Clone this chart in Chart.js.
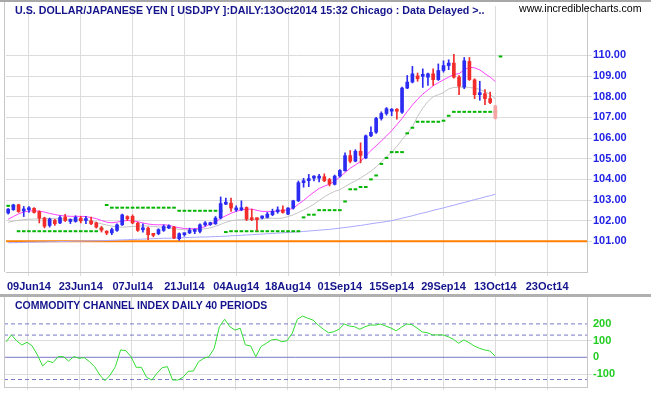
<!DOCTYPE html>
<html>
<head>
<meta charset="utf-8">
<script src="https://cdn.jsdelivr.net/npm/chart.js@4.4.1/dist/chart.umd.min.js"></script>
<style>
  body { margin: 0; background: #fff; width: 651px; height: 395px; overflow: hidden; position: relative; font-family: Arial, "Liberation Sans", sans-serif; }
  canvas { position: absolute; left: 0; }
  #priceChart { top: 0; }
  #cciChart { top: 297px; }
  .txt { position: absolute; white-space: nowrap; line-height: 10px; }
  .hdr { font-weight: bold; color: #14148c; }
  .rule { position: absolute; }
</style>
</head>
<body>
<canvas id="priceChart" width="651" height="295"></canvas>
<canvas id="cciChart" width="651" height="98"></canvas>
<div class="rule" style="left:0;top:0;width:651px;height:2px;background:#a8a8a8"></div>
<div class="rule" style="left:4px;top:2px;width:1px;height:270px;background:#c8c8c8"></div>
<div class="rule" style="left:0;top:294px;width:651px;height:3px;background:#b0b0b0"></div>
<div class="rule" style="left:4px;top:297px;width:1px;height:90px;background:#c8c8c8"></div>
<div class="txt hdr" style="left:15px;top:5px;font-size:10.7px">U.S. DOLLAR/JAPANESE YEN [ USDJPY ]:DAILY:13Oct2014 15:32 Chicago : Data Delayed &gt;..</div>
<div class="txt" style="left:519px;top:3px;font-size:10.6px;color:#000">www.incrediblecharts.com</div>
<div class="txt hdr" style="left:15px;top:300px;font-size:10.5px">COMMODITY CHANNEL INDEX DAILY 40 PERIODS</div>
<script>
document.addEventListener('DOMContentLoaded', function() {

// trading days, first value is 03 Jun 2014 (day -4), day 0 = 09 Jun 2014
var firstDay = -4;
var tickDays = [0, 10, 20, 30, 40, 50, 60, 70, 80, 90, 100];
var tickLabels = ['09Jun14', '23Jun14', '07Jul14', '21Jul14', '04Aug14', '18Aug14', '01Sep14', '15Sep14', '29Sep14', '13Oct14', '23Oct14'];
var priceTicks = [101, 102, 103, 104, 105, 106, 107, 108, 109, 110];
var cciTicks = [200, 100, 0, -100];
var cciLabels = ['200', '100', '0', '-100'];
var supportLevel = 101.00;
var cciDashed = [200, 133, -133];

var opens = [102.37,102.53,102.77,102.47,102.53,102.60,102.44,102.13,101.77,102.01,
  101.89,102.18,101.96,101.96,102.12,102.01,101.99,101.89,101.64,101.45,
  101.41,101.53,101.80,102.20,102.21,101.88,101.56,101.64,101.33,101.37,
  101.53,101.65,101.69,101.13,101.32,101.41,101.48,101.48,101.80,101.81,
  101.85,102.13,102.80,102.85,102.52,102.53,102.64,102.08,102.08,102.13,
  102.16,102.29,102.43,102.53,102.32,102.61,102.96,103.84,103.94,104.06,
  104.06,104.13,103.99,103.76,104.16,104.42,105.15,104.88,105.36,105.04,
  106.11,106.28,106.95,107.19,107.30,107.36,107.25,108.42,108.71,109.01,
  108.99,108.95,109.11,108.83,109.27,109.51,109.63,108.95,108.47,109.71,
  108.82,108.10,108.15,107.91,107.56];
var highs = [102.59,102.80,102.80,102.69,102.68,102.63,102.48,102.17,102.13,102.07,
  102.24,102.31,102.09,102.24,102.21,102.21,102.17,101.93,101.73,101.51,
  101.64,101.85,102.32,102.24,102.28,101.93,101.85,101.69,101.38,101.61,
  101.80,101.80,101.73,101.41,101.41,101.64,101.61,101.85,101.96,101.93,
  102.20,103.15,103.09,103.09,102.72,102.96,102.67,102.56,102.13,102.24,
  102.40,102.56,102.67,102.72,102.64,102.99,103.92,104.05,104.24,104.18,
  104.25,104.27,104.05,104.21,104.48,105.28,105.40,105.44,105.77,106.15,
  106.55,107.00,107.27,107.48,107.43,107.43,108.47,109.03,109.47,109.15,
  109.35,109.15,109.35,109.59,109.74,109.79,110.06,109.03,109.90,109.90,
  108.87,108.75,108.35,108.23,107.59];
var lows = [102.32,102.50,102.40,102.20,102.40,102.37,101.89,101.65,101.69,101.77,
  101.86,101.96,101.86,101.93,101.89,101.86,101.81,101.64,101.45,101.32,
  101.32,101.48,101.77,102.01,101.85,101.48,101.45,101.08,101.22,101.32,
  101.48,101.61,101.13,101.05,101.25,101.37,101.37,101.41,101.73,101.77,
  101.82,102.08,102.78,102.45,102.45,102.48,102.00,102.00,101.53,102.08,
  102.13,102.24,102.36,102.36,102.29,102.56,102.93,103.62,103.65,103.92,
  103.88,103.89,103.68,103.73,104.11,104.40,104.80,104.85,104.80,105.00,
  106.07,106.23,106.87,107.11,107.08,106.92,107.19,108.39,108.67,108.75,
  108.45,108.55,108.55,108.79,109.19,109.31,108.90,108.10,108.39,108.79,
  107.91,107.83,107.62,107.67,106.92];
var closes = [102.56,102.76,102.44,102.53,102.56,102.40,102.12,101.73,102.08,101.85,
  102.15,102.01,102.01,102.16,101.99,102.05,101.85,101.69,101.54,101.40,
  101.57,101.80,102.28,102.09,101.89,101.53,101.61,101.32,101.29,101.57,
  101.72,101.72,101.16,101.37,101.37,101.53,101.53,101.80,101.85,101.88,
  102.13,102.83,102.83,102.61,102.59,102.61,102.08,102.05,102.05,102.19,
  102.32,102.45,102.48,102.40,102.61,102.96,103.84,103.92,104.02,104.12,
  104.13,103.93,103.77,104.16,104.43,105.15,104.88,105.36,105.16,106.11,
  106.28,106.95,107.19,107.42,107.36,107.30,108.42,108.71,109.11,108.87,
  109.05,109.11,108.83,109.27,109.51,109.63,108.95,108.51,109.74,108.83,
  108.10,108.15,107.91,107.72,106.95];

var emaFast = [102.07,102.20,102.33,102.42,102.47,102.48,102.46,102.42,102.35,102.30,
  102.25,102.23,102.21,102.21,102.21,102.20,102.15,102.10,102.01,101.93,
  101.90,101.93,101.98,102.01,101.99,101.95,101.89,101.84,101.81,101.80,
  101.80,101.78,101.71,101.66,101.62,101.61,101.61,101.65,101.71,101.85,
  101.92,102.12,102.24,102.36,102.45,102.52,102.55,102.56,102.50,102.45,
  102.45,102.45,102.47,102.49,102.53,102.60,102.80,102.98,103.19,103.38,
  103.56,103.67,103.77,103.92,104.12,104.33,104.54,104.70,104.87,105.13,
  105.40,105.62,105.86,106.10,106.36,106.65,106.95,107.28,107.60,107.88,
  108.13,108.33,108.53,108.68,108.82,108.95,109.08,109.12,109.30,109.43,
  109.40,109.30,109.12,108.95,108.74];
var emaSlow = [101.92,101.98,102.02,102.05,102.07,102.08,102.09,102.10,102.10,102.10,
  102.09,102.08,102.07,102.05,102.04,102.02,101.98,101.92,101.85,101.79,
  101.74,101.70,101.69,101.70,101.72,101.73,101.75,101.74,101.72,101.70,
  101.68,101.65,101.62,101.58,101.56,101.56,101.57,101.58,101.61,101.65,
  101.73,101.82,101.92,102.00,102.03,102.05,102.06,102.06,102.07,102.09,
  102.11,102.12,102.11,102.13,102.20,102.28,102.40,102.52,102.65,102.80,
  102.98,103.15,103.30,103.42,103.50,103.65,103.80,103.92,104.07,104.23,
  104.40,104.60,104.85,105.08,105.32,105.60,105.92,106.22,106.55,107.05,
  107.45,107.78,108.00,108.10,108.20,108.38,108.45,108.46,108.47,108.45,
  108.42,108.35,108.25,108.12,107.90];
var maLong = [100.93,100.94,100.94,100.95,100.96,100.96,100.97,100.97,100.98,100.98,
  100.99,100.99,101.00,101.01,101.01,101.02,101.02,101.03,101.03,101.04,
  101.05,101.06,101.07,101.08,101.09,101.10,101.11,101.12,101.13,101.14,
  101.15,101.15,101.16,101.17,101.18,101.19,101.20,101.21,101.21,101.22,
  101.23,101.24,101.25,101.27,101.28,101.29,101.31,101.32,101.34,101.35,
  101.37,101.38,101.40,101.41,101.43,101.45,101.46,101.48,101.50,101.52,
  101.54,101.56,101.58,101.61,101.64,101.67,101.70,101.74,101.77,101.81,
  101.85,101.89,101.92,101.96,102.00,102.06,102.12,102.18,102.24,102.31,
  102.37,102.43,102.50,102.56,102.62,102.69,102.75,102.82,102.88,102.95,
  103.02,103.08,103.15,103.21,103.28];
// volatility stop, one more day than the candles
var volStop = [102.72,102.72,101.49,101.49,101.49,101.49,101.49,101.49,101.49,101.49,
  101.49,101.49,101.49,101.49,101.49,101.49,101.49,101.49,101.62,102.76,
  102.63,102.63,102.63,102.63,102.63,102.63,102.63,102.63,102.63,102.63,
  102.63,102.63,102.63,102.48,102.48,102.48,102.48,102.48,102.48,102.48,
  102.48,102.48,101.45,101.49,101.49,101.49,101.49,101.49,101.49,101.49,
  101.49,101.49,101.49,101.49,101.49,101.49,101.49,102.16,102.29,102.29,
  102.51,102.51,102.51,102.51,102.51,102.93,103.52,103.52,103.63,103.63,
  104.00,104.19,104.75,105.04,105.32,105.32,105.32,106.23,106.50,106.79,
  106.79,106.79,106.79,106.79,106.84,107.08,107.27,107.27,107.27,107.27,
  107.27,107.27,107.27,107.27,107.27,109.95];
var cci = [93,134,99,74,90,68,14,-52,-22,-32,
  4,4,-22,4,-6,-2,-26,-56,-106,-140,
  -106,-56,44,40,4,-60,-60,-120,-136,-96,
  -62,-56,-136,-136,-120,-84,-82,-26,-6,4,
  54,183,228,183,163,174,74,68,4,64,
  84,104,108,93,99,144,228,247,234,223,
  193,168,147,153,168,199,187,183,168,183,
  193,193,199,187,175,159,180,199,196,175,
  152,147,134,134,134,123,108,84,104,88,
  68,54,44,38,8];

var xMin = -4.423, xMax = 107.69;
var upColor = '#2b2bf2', downColor = '#f22b2b', liveColor = '#f5a4a4';
var navy = '#14148c';

function series(values) {
  return values.map(function(v, k) { return { x: k + firstDay, y: v }; });
}
function candleColor(k) {
  if (k === closes.length - 1) return liveColor;
  return closes[k] >= opens[k] ? upColor : downColor;
}
var bodies = opens.map(function(o, k) { return { x: k + firstDay, y: [o, closes[k]] }; });
var wicks = lows.map(function(l, k) { return { x: k + firstDay, y: [l, highs[k]] }; });
var colors = opens.map(function(o, k) { return candleColor(k); });

// keep the plot area exactly where the padding puts it
function noPad(scale) {
  scale.paddingTop = 0; scale.paddingBottom = 0;
  scale.paddingLeft = 0; scale.paddingRight = 0;
}

function xAxis(showLabels, height, tickLen) {
  return {
    type: 'linear', min: xMin, max: xMax, offset: false,
    afterBuildTicks: function(axis) { axis.ticks = tickDays.map(function(v) { return { value: v }; }); },
    afterFit: function(scale) { scale.height = height; noPad(scale); },
    grid: { color: '#dcdcdc', tickLength: tickLen, offset: false },
    border: { display: true, color: '#c8c8c8' },
    ticks: {
      display: showLabels, autoSkip: false, maxRotation: 0, padding: 4,
      color: navy, font: { family: 'Arial', size: 11, weight: 'bold' },
      callback: function(v) { return tickLabels[tickDays.indexOf(v)]; }
    }
  };
}

new Chart(document.getElementById('priceChart').getContext('2d'), {
  type: 'bar',
  data: {
    datasets: [
      { type: 'bar', data: bodies, backgroundColor: colors, barThickness: 3, grouped: false, minBarLength: 2, borderWidth: 0 },
      { type: 'bar', data: wicks, backgroundColor: colors, barThickness: 1, grouped: false, borderWidth: 0 },
      { type: 'line', data: series(volStop), showLine: false, pointStyle: 'line', pointRadius: 1.8, borderColor: '#00b400', borderWidth: 2 },
      { type: 'line', data: series(emaFast), borderColor: '#ff44ff', borderWidth: 1, pointRadius: 0, tension: 0 },
      { type: 'line', data: series(emaSlow), borderColor: '#c4c4c4', borderWidth: 1, pointRadius: 0, tension: 0 },
      { type: 'line', data: series(maLong), borderColor: '#a8a8ff', borderWidth: 1, pointRadius: 0, tension: 0 },
      { type: 'line', data: [{ x: xMin, y: supportLevel }, { x: xMax, y: supportLevel }], borderColor: '#ff8000', borderWidth: 2, pointRadius: 0 }
    ]
  },
  options: {
    responsive: false,
    animation: false,
    events: [],
    layout: { padding: { left: 4, top: 3, right: 0, bottom: 0 } },
    scales: {
      x: xAxis(true, 23, 4),
      y: {
        type: 'linear', position: 'right', min: 99.516, max: 112.394,
        afterBuildTicks: function(axis) { axis.ticks = priceTicks.map(function(v) { return { value: v }; }); },
        afterFit: function(scale) { scale.width = 64; noPad(scale); },
        grid: { color: '#dcdcdc', tickLength: 5 },
        border: { display: true, color: '#c8c8c8' },
        ticks: {
          padding: 1, color: '#2323e6', font: { family: 'Arial', size: 11, weight: 'bold' },
          callback: function(v) { return v.toFixed(2); }
        }
      }
    },
    plugins: { legend: { display: false }, tooltip: { enabled: false } }
  }
});

var cciDatasets = [
  { type: 'line', data: series(cci), borderColor: '#33dd33', borderWidth: 1, pointRadius: 0, tension: 0 },
  { type: 'line', data: [{ x: xMin, y: 0 }, { x: xMax, y: 0 }], borderColor: '#7878c8', borderWidth: 1, pointRadius: 0 }
];
cciDashed.forEach(function(level) {
  cciDatasets.push({ type: 'line', data: [{ x: xMin, y: level }, { x: xMax, y: level }], borderColor: '#7878c8', borderWidth: 1, borderDash: [4, 3], pointRadius: 0 });
});

new Chart(document.getElementById('cciChart').getContext('2d'), {
  type: 'line',
  data: { datasets: cciDatasets },
  options: {
    responsive: false,
    animation: false,
    events: [],
    layout: { padding: { left: 4, top: 0, right: 0, bottom: 0 } },
    scales: {
      x: xAxis(false, 8, 3),
      y: {
        type: 'linear', position: 'right', min: -177.8, max: 361,
        afterBuildTicks: function(axis) { axis.ticks = cciTicks.map(function(v) { return { value: v }; }); },
        afterFit: function(scale) { scale.width = 64; noPad(scale); },
        grid: {
          tickLength: 5,
          color: function(ctx) { return (ctx.tick && Math.abs(ctx.tick.value) === 100) ? '#dcdcdc' : 'rgba(0,0,0,0)'; }
        },
        border: { display: true, color: '#c8c8c8' },
        ticks: {
          padding: 1, color: '#22cc22', font: { family: 'Arial', size: 11, weight: 'bold' },
          callback: function(v) { return cciLabels[cciTicks.indexOf(v)]; }
        }
      }
    },
    plugins: { legend: { display: false }, tooltip: { enabled: false } }
  }
});

});
</script>
</body>
</html>
